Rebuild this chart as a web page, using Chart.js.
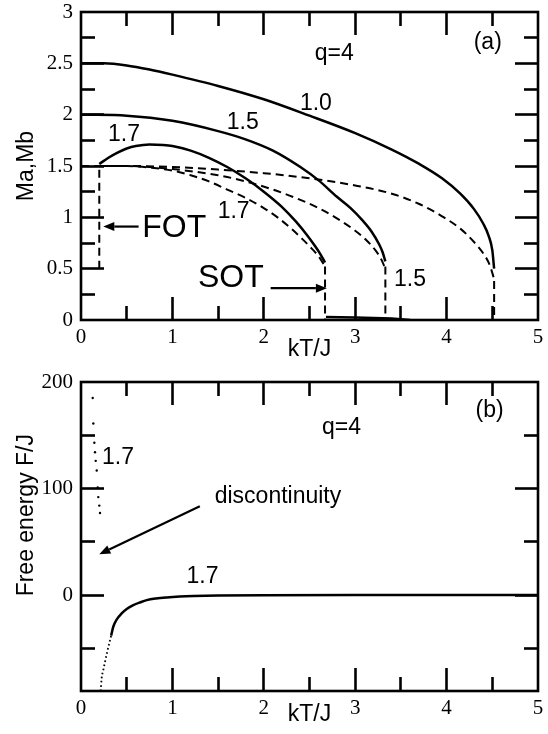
<!DOCTYPE html>
<html>
<head>
<meta charset="utf-8">
<script src="https://cdn.jsdelivr.net/npm/chart.js@4.4.1/dist/chart.umd.min.js"></script>
<style>
  body { margin: 0; background: #fff; }
  .box { position: absolute; left: 0; width: 548px; }
  #topBox { top: 0; height: 365px; }
  #botBox { top: 365px; height: 369px; }
</style>
</head>
<body>
<div class="box" id="topBox"><canvas id="magChart"></canvas></div>
<div class="box" id="botBox"><canvas id="energyChart"></canvas></div>
<script>
// ---- panel (a): sublattice magnetizations Ma (solid) and Mb (dashed) ----
const kT_ma10 = [0, 0.25, 0.5, 0.75, 1.0, 1.5, 2.0, 2.5, 3.0, 3.4, 3.7, 3.95, 4.15, 4.3, 4.4, 4.46, 4.5, 4.52];
const ma10    = [2.5, 2.5, 2.48, 2.44, 2.39, 2.28, 2.15, 1.99, 1.82, 1.66, 1.52, 1.38, 1.23, 1.08, 0.94, 0.82, 0.68, 0.5];
const kT_mb10 = [0, 0.5, 1.0, 1.5, 2.0, 2.5, 3.0, 3.4, 3.7, 3.95, 4.15, 4.3, 4.4, 4.47, 4.52];
const mb10    = [1.5, 1.5, 1.49, 1.465, 1.43, 1.38, 1.31, 1.23, 1.13, 1.01, 0.89, 0.76, 0.65, 0.54, 0.4];

const kT_ma15 = [0, 0.5, 1.0, 1.5, 1.8, 2.1, 2.4, 2.6, 2.8, 2.95, 3.08, 3.18, 3.26, 3.3, 3.33];
const ma15    = [2.0, 1.99, 1.94, 1.84, 1.76, 1.65, 1.49, 1.36, 1.2, 1.09, 0.97, 0.86, 0.74, 0.66, 0.57];
const kT_mb15 = [0, 0.5, 1.0, 1.5, 1.8, 2.1, 2.4, 2.6, 2.8, 3.0, 3.12, 3.22, 3.28, 3.33];
const mb15    = [1.5, 1.5, 1.47, 1.41, 1.35, 1.27, 1.17, 1.09, 0.99, 0.87, 0.78, 0.68, 0.6, 0.5];

const kT_ma17 = [0.2, 0.3, 0.4, 0.5, 0.6, 0.75, 0.9, 1.0, 1.2, 1.4, 1.6, 1.8, 2.0, 2.2, 2.35, 2.47, 2.56, 2.62, 2.67];
const ma17    = [1.52, 1.58, 1.63, 1.67, 1.695, 1.71, 1.705, 1.695, 1.65, 1.58, 1.49, 1.38, 1.25, 1.1, 0.96, 0.83, 0.72, 0.64, 0.56];
const kT_mb17 = [0.2, 0.5, 0.8, 1.0, 1.2, 1.4, 1.6, 1.8, 2.0, 2.15, 2.3, 2.42, 2.52, 2.6, 2.67];
const mb17    = [1.5, 1.5, 1.48, 1.455, 1.41, 1.35, 1.27, 1.19, 1.09, 1.0, 0.89, 0.79, 0.7, 0.62, 0.52];

// vertical jumps (FOT at low T, drops to zero at the transitions)
const kT_fot  = [0.2, 0.2];   const m_fot  = [0.5, 1.5];
const kT_sot  = [2.67, 2.67]; const m_sot  = [0.52, 0];
const kT_d15  = [3.33, 3.33]; const m_d15  = [0.52, 0];
const kT_d10  = [4.52, 4.52]; const m_d10  = [0.38, 0];
const kT_tail = [2.68, 3.0, 3.4, 3.6]; const m_tail = [0.03, 0.025, 0.015, 0.0];

// ---- panel (b): free energy for 1.7 ----
const kT_fHigh = [0.128, 0.135, 0.146, 0.153, 0.161, 0.172, 0.183, 0.189, 0.2, 0.208];
const fHigh    = [185, 161, 143, 134, 126, 117, 101, 92, 84, 77];
const kT_fDot  = [0.215, 0.226, 0.245, 0.263, 0.285, 0.31, 0.33];
const fDot     = [-90, -78, -70, -62.5, -54, -45, -38];
const kT_fLow  = [0.33, 0.353, 0.39, 0.445, 0.5, 0.572, 0.65, 0.719, 0.82, 0.938, 1.08, 1.229, 1.5, 2, 3, 4, 5];
const fLow     = [-38, -29.7, -23, -17.2, -13, -9.4, -6.7, -4.7, -3.2, -2.2, -1.4, -0.9, -0.4, -0.1, 0, 0, 0];

// ticks
const xTicks = [0, 1, 2, 3, 4, 5];
const xMinor = [0.5, 1.5, 2.5, 3.5, 4.5];
const magTicks = [0, 0.5, 1, 1.5, 2, 2.5, 3];
const magMinor = [0.25, 0.75, 1.25, 1.75, 2.25, 2.75];
const energyTicks = [0, 100, 200];
const energyMinor = [-50, 50, 150];

const SANS = '"Liberation Sans", Arial, sans-serif';
const SERIF = '"Liberation Serif", "Times New Roman", serif';

function pts(xs, ys) { return xs.map((x, i) => ({ x: x, y: ys[i] })); }

function curve(xs, ys, dashed, smooth) {
    const ds = {
        data: pts(xs, ys),
        xAxisID: 'x',
        yAxisID: 'y',
        borderColor: '#000',
        borderWidth: dashed ? 2 : 2.5,
        pointRadius: 0,
        fill: false
    };
    if (dashed) ds.borderDash = [8, 5];
    if (smooth) ds.cubicInterpolationMode = 'monotone';
    return ds;
}

// frame, text labels and arrows (placed in data units)
function panelPlugin(texts, arrows) {
    return {
        id: 'panel',
        afterDatasetsDraw(chart) {
            const ctx = chart.ctx;
            const a = chart.chartArea;
            const sx = chart.scales.x, sy = chart.scales.y;
            ctx.save();
            ctx.setLineDash([]);
            ctx.fillStyle = '#000';
            ctx.strokeStyle = '#000';
            ctx.lineWidth = 2.6;
            ctx.strokeRect(a.left, a.top, a.right - a.left, a.bottom - a.top);

            ctx.textAlign = 'center';
            ctx.textBaseline = 'middle';
            texts.forEach(t => {
                ctx.save();
                ctx.font = (t.size || 23) + 'px ' + SANS;
                ctx.translate(sx.getPixelForValue(t.x), sy.getPixelForValue(t.y));
                if (t.rotate) ctx.rotate(t.rotate);
                ctx.fillText(t.text, 0, 0);
                ctx.restore();
            });
            arrows.forEach(ar => {
                const x1 = sx.getPixelForValue(ar.from[0]), y1 = sy.getPixelForValue(ar.from[1]);
                const x2 = sx.getPixelForValue(ar.to[0]), y2 = sy.getPixelForValue(ar.to[1]);
                const ang = Math.atan2(y2 - y1, x2 - x1);
                const hl = 11, hw = 4.5;
                const bx = x2 - hl * Math.cos(ang), by = y2 - hl * Math.sin(ang);
                ctx.lineWidth = 2.2;
                ctx.beginPath();
                ctx.moveTo(x1, y1);
                ctx.lineTo(bx, by);
                ctx.stroke();
                ctx.beginPath();
                ctx.moveTo(x2, y2);
                ctx.lineTo(bx + hw * Math.sin(ang), by - hw * Math.cos(ang));
                ctx.lineTo(bx - hw * Math.sin(ang), by + hw * Math.cos(ang));
                ctx.closePath();
                ctx.fill();
            });
            ctx.restore();
        }
    };
}

function xScale(height, titlePad) {
    return {
        type: 'linear', min: 0, max: 5,
        afterFit: s => { s.height = height; s.paddingLeft = 0; s.paddingRight = 0; },
        afterBuildTicks: s => { s.ticks = xTicks.map(v => ({ value: v })); },
        grid: { display: false, drawTicks: false },
        border: { display: false },
        ticks: { color: '#000', font: { family: SERIF, size: 21 }, padding: 5, maxRotation: 0, autoSkip: false, callback: v => String(v) },
        title: { display: true, text: 'kT/J', color: '#000', font: { family: SANS, size: 23 }, padding: { top: 0, bottom: titlePad } }
    };
}

function yScale(min, max, ticks, title) {
    return {
        type: 'linear', min: min, max: max,
        afterFit: s => { s.width = 81; s.paddingTop = 0; s.paddingBottom = 0; },
        afterBuildTicks: s => { s.ticks = ticks.map(v => ({ value: v })); },
        grid: { display: false, drawTicks: false },
        border: { display: false },
        ticks: { color: '#000', font: { family: SERIF, size: 21 }, padding: 8, autoSkip: false, callback: v => String(v) },
        title: { display: !!title, text: title || ' ', color: '#000', font: { family: SANS, size: 23 }, padding: { top: 13, bottom: 0 } }
    };
}

// tick-only axis pinned to one edge of the plot; a signed tickLength points the marks inward
function tickAxis(axis, pos, values, len, min, max) {
    return {
        axis: axis, type: 'linear', min: min, max: max, position: pos,
        afterBuildTicks: s => { s.ticks = values.filter(v => v > s.min && v < s.max).map(v => ({ value: v })); },
        afterFit: s => {
            if (axis === 'x') s.height = 0; else s.width = 0;
            s.paddingLeft = 0; s.paddingRight = 0; s.paddingTop = 0; s.paddingBottom = 0;
        },
        ticks: { display: false, autoSkip: false },
        grid: { display: true, drawOnChartArea: false, drawTicks: true, tickLength: len, tickWidth: 2.6, tickColor: '#000' },
        border: { display: false }
    };
}

// the eight tick axes of a panel: major 23 px, minor 14 px, on all four sides
function edgeTicks(xMaj, xMin, yMaj, yMin, yLo, yHi) {
    return {
        xBotMaj: tickAxis('x', { y: yLo }, xMaj, -23, 0, 5),
        xBotMin: tickAxis('x', { y: yLo }, xMin, -14, 0, 5),
        xTopMaj: tickAxis('x', { y: yHi }, xMaj, 23, 0, 5),
        xTopMin: tickAxis('x', { y: yHi }, xMin, 14, 0, 5),
        yLeftMaj: tickAxis('y', { x: 0 }, yMaj, -23, yLo, yHi),
        yLeftMin: tickAxis('y', { x: 0 }, yMin, -14, yLo, yHi),
        yRightMaj: tickAxis('y', { x: 5 }, yMaj, 23, yLo, yHi),
        yRightMin: tickAxis('y', { x: 5 }, yMin, 14, yLo, yHi)
    };
}

const magTexts = [
    { text: 'q=4', x: 2.77, y: 2.59 },
    { text: '(a)', x: 4.45, y: 2.70 },
    { text: '1.0', x: 2.57, y: 2.11 },
    { text: '1.5', x: 1.77, y: 1.92 },
    { text: '1.7', x: 0.47, y: 1.81 },
    { text: '1.7', x: 1.67, y: 1.06 },
    { text: 'FOT', x: 1.02, y: 0.89, size: 32 },
    { text: 'SOT', x: 1.64, y: 0.41, size: 32 },
    { text: '1.5', x: 3.6, y: 0.39 }
];
const magArrows = [
    { from: [0.63, 0.91], to: [0.244, 0.91] },
    { from: [2.075, 0.31], to: [2.69, 0.31] }
];

new Chart(document.getElementById('magChart'), {
    type: 'line',
    data: {
        datasets: [
            curve(kT_ma10, ma10, false, true),
            curve(kT_mb10, mb10, true, true),
            curve(kT_ma15, ma15, false, true),
            curve(kT_mb15, mb15, true, true),
            curve(kT_ma17, ma17, false, true),
            curve(kT_mb17, mb17, true, true),
            curve(kT_fot, m_fot, true, false),
            curve(kT_sot, m_sot, true, false),
            curve(kT_d15, m_d15, true, false),
            curve(kT_d10, m_d10, true, false),
            curve(kT_tail, m_tail, false, false)
        ]
    },
    options: {
        responsive: true,
        maintainAspectRatio: false,
        animation: false,
        layout: { padding: { top: 12, right: 10, left: 0, bottom: 0 } },
        plugins: { legend: { display: false }, tooltip: { enabled: false } },
        scales: Object.assign({
            x: xScale(45, 2),
            y: yScale(0, 3, magTicks, 'Ma,Mb')
        }, edgeTicks(xTicks, xMinor, magTicks, magMinor, 0, 3))
    },
    plugins: [panelPlugin(magTexts, magArrows)]
});

const energyTexts = [
    { text: '(b)', x: 4.47, y: 173 },
    { text: 'q=4', x: 2.85, y: 157 },
    { text: '1.7', x: 0.405, y: 129 },
    { text: 'discontinuity', x: 2.155, y: 92 },
    { text: '1.7', x: 1.33, y: 17.3 },
    { text: 'Free energy F/J', x: -0.59, y: 75, rotate: -Math.PI / 2 }
];
const energyArrows = [
    { from: [1.30, 83.4], to: [0.2, 38.4] }
];

const lowDots = curve(kT_fDot, fDot, false, true);
lowDots.borderWidth = 1.8;
lowDots.borderDash = [1.6, 2.6];
const highDots = {
    data: pts(kT_fHigh, fHigh),
    xAxisID: 'x',
    yAxisID: 'y',
    showLine: false,
    pointRadius: 1.2,
    pointBackgroundColor: '#000',
    pointBorderWidth: 0
};

new Chart(document.getElementById('energyChart'), {
    type: 'line',
    data: {
        datasets: [
            highDots,
            lowDots,
            curve(kT_fLow, fLow, false, true)
        ]
    },
    options: {
        responsive: true,
        maintainAspectRatio: false,
        animation: false,
        layout: { padding: { top: 17, right: 10, left: 0, bottom: 0 } },
        plugins: { legend: { display: false }, tooltip: { enabled: false } },
        scales: Object.assign({
            x: xScale(43, 6),
            y: yScale(-90, 200, energyTicks, '')
        }, edgeTicks(xTicks, xMinor, energyTicks, energyMinor, -90, 200))
    },
    plugins: [panelPlugin(energyTexts, energyArrows)]
});
</script>
</body>
</html>
